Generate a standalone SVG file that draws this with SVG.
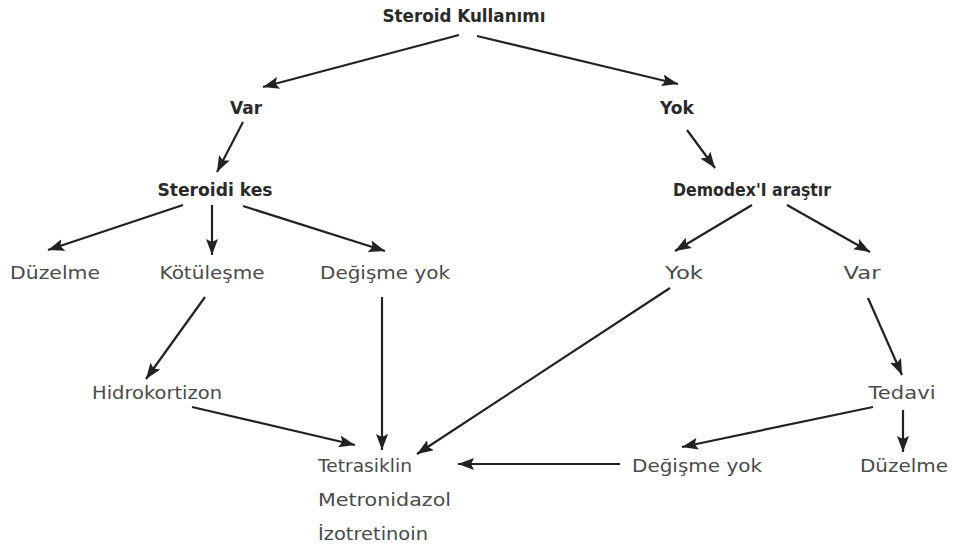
<svg xmlns="http://www.w3.org/2000/svg" width="953" height="547" viewBox="0 0 953 547">
<defs>
<marker id="ah" viewBox="0 0 16 12" refX="16" refY="6" markerWidth="16" markerHeight="12" markerUnits="userSpaceOnUse" orient="auto">
<path d="M0,0 L16,6 L0,12 L3,6 Z" fill="#222"/>
</marker>
</defs>
<style>
.b{font-family:"DejaVu Sans","Liberation Sans",sans-serif;font-weight:bold;font-size:18px;fill:#2a2a2a;text-anchor:middle}
.r{font-family:"DejaVu Sans","Liberation Sans",sans-serif;font-size:18px;fill:#4a4a4a;text-anchor:middle}
.l{font-family:"DejaVu Sans","Liberation Sans",sans-serif;font-size:18px;fill:#4a4a4a}
.c line{stroke:#222;stroke-width:2.2;marker-end:url(#ah)}
</style>
<rect width="953" height="547" fill="#fff"/>
<g class="c">
<line x1="459" y1="35" x2="263" y2="87"/>
<line x1="477" y1="36" x2="678" y2="84"/>
<line x1="243" y1="122" x2="217" y2="172"/>
<line x1="687" y1="130" x2="715" y2="168"/>
<line x1="183" y1="205" x2="48" y2="250"/>
<line x1="212" y1="205" x2="212" y2="255"/>
<line x1="243" y1="206" x2="385" y2="251"/>
<line x1="752" y1="205" x2="675" y2="251"/>
<line x1="787" y1="205" x2="870" y2="252"/>
<line x1="205" y1="297" x2="146" y2="379"/>
<line x1="382" y1="297" x2="382" y2="450"/>
<line x1="670" y1="288" x2="417" y2="454"/>
<line x1="192" y1="407" x2="355" y2="445"/>
<line x1="868" y1="298" x2="902" y2="375"/>
<line x1="873" y1="407" x2="682" y2="447"/>
<line x1="903" y1="410" x2="903" y2="452"/>
<line x1="620" y1="464" x2="458" y2="464"/>
</g>
<g id="steroid"><text class="b" x="464" y="22" textLength="163" lengthAdjust="spacingAndGlyphs">Steroid Kullanımı</text></g>
<g id="var1"><text class="b" x="246" y="114" textLength="32" lengthAdjust="spacingAndGlyphs">Var</text></g>
<g id="yok1"><text class="b" x="677" y="114" textLength="34" lengthAdjust="spacingAndGlyphs">Yok</text></g>
<g id="kes"><text class="b" x="215" y="196" textLength="115" lengthAdjust="spacingAndGlyphs">Steroidi kes</text></g>
<g id="demodex"><text class="b" x="752" y="196" textLength="158" lengthAdjust="spacingAndGlyphs">Demodex'I araştır</text></g>
<g id="duzelme1"><text class="r" x="55" y="279" textLength="90" lengthAdjust="spacingAndGlyphs">Düzelme</text></g>
<g id="kotulesme"><text class="r" x="212" y="279" textLength="105" lengthAdjust="spacingAndGlyphs">Kötüleşme</text></g>
<g id="degisme1"><text class="r" x="385" y="279" textLength="130" lengthAdjust="spacingAndGlyphs">Değişme yok</text></g>
<g id="yok2"><text class="r" x="684" y="279" textLength="38" lengthAdjust="spacingAndGlyphs">Yok</text></g>
<g id="var2"><text class="r" x="862" y="279" textLength="37" lengthAdjust="spacingAndGlyphs">Var</text></g>
<g id="hidro"><text class="r" x="157" y="399" textLength="130" lengthAdjust="spacingAndGlyphs">Hidrokortizon</text></g>
<g id="tedavi"><text class="r" x="902" y="399" textLength="67" lengthAdjust="spacingAndGlyphs">Tedavi</text></g>
<g id="tedaviler">
<text class="l" x="318" y="472" textLength="94" lengthAdjust="spacingAndGlyphs">Tetrasiklin</text>
<text class="l" x="318" y="506" textLength="133" lengthAdjust="spacingAndGlyphs">Metronidazol</text>
<text class="l" x="318" y="540" textLength="110" lengthAdjust="spacingAndGlyphs">İzotretinoin</text>
</g>
<g id="degisme2"><text class="r" x="697" y="472" textLength="130" lengthAdjust="spacingAndGlyphs">Değişme yok</text></g>
<g id="duzelme2"><text class="r" x="904" y="472" textLength="88" lengthAdjust="spacingAndGlyphs">Düzelme</text></g>
</svg>
